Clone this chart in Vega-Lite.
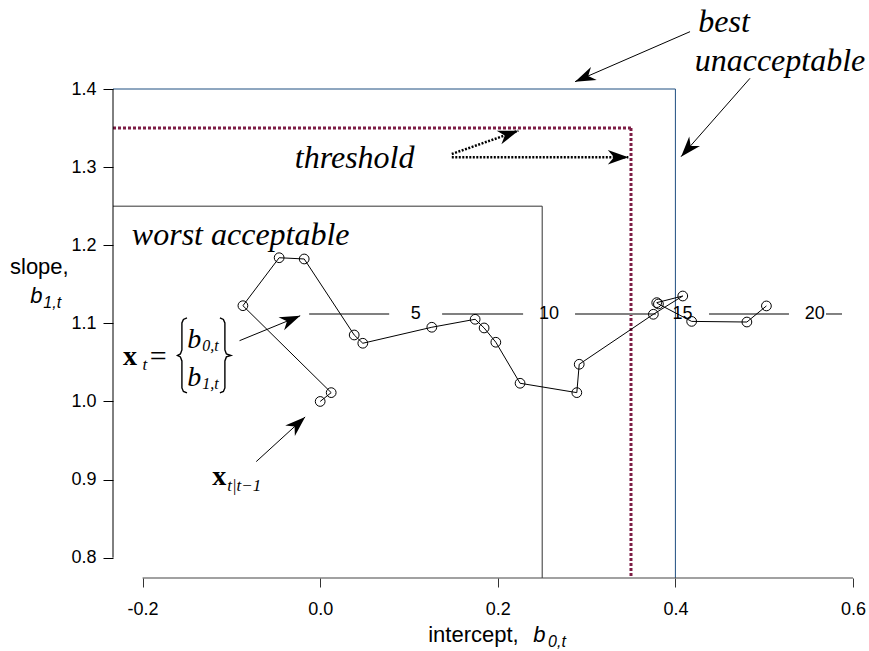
{
  "$schema": "https://vega.github.io/schema/vega-lite/v6.json",
  "width": 740,
  "height": 489,
  "autosize": {"type": "none"},
  "padding": {"left": 113, "top": 89, "right": 16, "bottom": 73},
  "background": "white",
  "config": {"view": {"stroke": null}},
  "datasets": {
    "path": [
      {"t": 0, "x": 0.0, "y": 1.0},
      {"t": 1, "x": 0.0124, "y": 1.0113},
      {"t": 2, "x": -0.087, "y": 1.1226},
      {"t": 3, "x": -0.0462, "y": 1.184},
      {"t": 4, "x": -0.018, "y": 1.1824},
      {"t": 5, "x": 0.0383, "y": 1.0851},
      {"t": 6, "x": 0.048, "y": 1.0745},
      {"t": 7, "x": 0.1257, "y": 1.095},
      {"t": 8, "x": 0.1745, "y": 1.1052},
      {"t": 9, "x": 0.1846, "y": 1.0941},
      {"t": 10, "x": 0.1978, "y": 1.0758},
      {"t": 11, "x": 0.2251, "y": 1.0233},
      {"t": 12, "x": 0.289, "y": 1.0113},
      {"t": 13, "x": 0.2917, "y": 1.0476},
      {"t": 14, "x": 0.3752, "y": 1.1116},
      {"t": 15, "x": 0.4083, "y": 1.135},
      {"t": 16, "x": 0.379, "y": 1.1265},
      {"t": 17, "x": 0.3809, "y": 1.1248},
      {"t": 18, "x": 0.4183, "y": 1.1025},
      {"t": 19, "x": 0.4805, "y": 1.1017},
      {"t": 20, "x": 0.5025, "y": 1.1223}
    ],
    "lines": [
      {"kind": "best", "x": -0.2333, "x2": 0.4, "y": 1.4, "y2": 1.4},
      {"kind": "best", "x": 0.4, "x2": 0.4, "y": 1.4, "y2": 0.774},
      {"kind": "worst", "x": -0.2333, "x2": 0.25, "y": 1.25, "y2": 1.25},
      {"kind": "worst", "x": 0.25, "x2": 0.25, "y": 1.25, "y2": 0.774},
      {"kind": "threshold", "x": -0.2333, "x2": 0.35, "y": 1.35, "y2": 1.35},
      {"kind": "threshold", "x": 0.35, "x2": 0.35, "y": 1.35, "y2": 0.774},
      {"kind": "xaxis", "x": -0.2, "x2": 0.6, "y": 0.774, "y2": 0.774},
      {"kind": "yaxis", "x": -0.2333, "x2": -0.2333, "y": 0.8, "y2": 1.4},
      {"kind": "steps", "x": -0.0124, "x2": 0.0777, "y": 1.112, "y2": 1.112},
      {"kind": "steps", "x": 0.1373, "x2": 0.2285, "y": 1.112, "y2": 1.112},
      {"kind": "steps", "x": 0.287, "x2": 0.378, "y": 1.112, "y2": 1.112},
      {"kind": "steps", "x": 0.4379, "x2": 0.5279, "y": 1.112, "y2": 1.112},
      {"kind": "steps", "x": 0.5696, "x2": 0.5876, "y": 1.112, "y2": 1.112},
      {"kind": "arrow", "name": "best", "x": 0.4165, "y": 1.4734, "x2": 0.287, "y2": 1.4094},
      {"kind": "arrow", "name": "unacceptable", "x": 0.484, "y": 1.4137, "x2": 0.4064, "y2": 1.3134},
      {"kind": "arrow", "name": "xt", "x": -0.0908, "y": 1.0778, "x2": -0.0225, "y2": 1.1097},
      {"kind": "arrow", "name": "xprior", "x": -0.072, "y": 0.923, "x2": -0.0169, "y2": 0.9802},
      {"kind": "dotted", "name": "thr1", "x": 0.1482, "y": 1.3168, "x2": 0.2232, "y2": 1.3466},
      {"kind": "dotted", "name": "thr2", "x": 0.1482, "y": 1.3126, "x2": 0.347, "y2": 1.3126}
    ],
    "braces": [
      {"brace": "left", "i": 0, "x": -0.15, "y": 1.1069},
      {"brace": "left", "i": 1, "x": -0.154, "y": 1.105},
      {"brace": "left", "i": 2, "x": -0.1557, "y": 1.1005},
      {"brace": "left", "i": 3, "x": -0.1557, "y": 1.0659},
      {"brace": "left", "i": 4, "x": -0.1574, "y": 1.0608},
      {"brace": "left", "i": 5, "x": -0.1607, "y": 1.0589},
      {"brace": "left", "i": 6, "x": -0.1574, "y": 1.057},
      {"brace": "left", "i": 7, "x": -0.1557, "y": 1.0518},
      {"brace": "left", "i": 8, "x": -0.1557, "y": 1.0173},
      {"brace": "left", "i": 9, "x": -0.154, "y": 1.0128},
      {"brace": "left", "i": 10, "x": -0.15, "y": 1.0109},
      {"brace": "right", "i": 0, "x": -0.1129, "y": 1.1069},
      {"brace": "right", "i": 1, "x": -0.109, "y": 1.105},
      {"brace": "right", "i": 2, "x": -0.1073, "y": 1.1005},
      {"brace": "right", "i": 3, "x": -0.1073, "y": 1.0659},
      {"brace": "right", "i": 4, "x": -0.1056, "y": 1.0608},
      {"brace": "right", "i": 5, "x": -0.1005, "y": 1.0589},
      {"brace": "right", "i": 6, "x": -0.1056, "y": 1.057},
      {"brace": "right", "i": 7, "x": -0.1073, "y": 1.0518},
      {"brace": "right", "i": 8, "x": -0.1073, "y": 1.0173},
      {"brace": "right", "i": 9, "x": -0.109, "y": 1.0128},
      {"brace": "right", "i": 10, "x": -0.1129, "y": 1.0109}
    ],
    "heads": [
      {"name": "best", "x": 0.287, "y": 1.4094},
      {"name": "unacceptable", "x": 0.4064, "y": 1.3134},
      {"name": "xt", "x": -0.0225, "y": 1.1097},
      {"name": "xprior", "x": -0.0169, "y": 0.9802},
      {"name": "thr1", "x": 0.2232, "y": 1.3466},
      {"name": "thr2", "x": 0.347, "y": 1.3126}
    ],
    "texts": [
      {"kind": "note", "text": "best", "x": 0.4548, "y": 1.473},
      {"kind": "note", "text": "unacceptable", "x": 0.5178, "y": 1.4235},
      {"kind": "note", "text": "threshold", "x": 0.0388, "y": 1.2989},
      {"kind": "note", "text": "worst acceptable", "x": -0.0895, "y": 1.2003},
      {"kind": "boldx", "text": "x", "x": -0.2221, "y": 1.0467},
      {"kind": "boldx", "text": "x", "x": -0.1216, "y": 0.8931},
      {"kind": "sub", "text": "t", "x": -0.2001, "y": 1.0403},
      {"kind": "sub", "text": "t|t−1", "x": -0.1047, "y": 0.8854},
      {"kind": "eq", "text": "=", "x": -0.1823, "y": 1.0454},
      {"kind": "b", "text": "b", "x": -0.1497, "y": 1.0685},
      {"kind": "b", "text": "b", "x": -0.1497, "y": 1.0198},
      {"kind": "bsub", "text": "0,t", "x": -0.1329, "y": 1.0646},
      {"kind": "bsub", "text": "1,t", "x": -0.1329, "y": 1.016},
      {"kind": "title", "text": "intercept,", "x": 0.1216, "y": 0.6925},
      {"kind": "title", "text": "slope,", "x": -0.3493, "y": 1.1632},
      {"kind": "titleb", "text": "b", "x": 0.2398, "y": 0.6925},
      {"kind": "titleb", "text": "b", "x": -0.3264, "y": 1.1261},
      {"kind": "titlesub", "text": "0,t", "x": 0.2566, "y": 0.6857},
      {"kind": "titlesub", "text": "1,t", "x": -0.3118, "y": 1.1197},
      {"kind": "step", "text": "5", "x": 0.1077, "y": 1.112},
      {"kind": "step", "text": "10", "x": 0.2578, "y": 1.112},
      {"kind": "step", "text": "15", "x": 0.408, "y": 1.112},
      {"kind": "step", "text": "20", "x": 0.557, "y": 1.112}
    ]
  },
  "encoding": {
    "x": {
      "field": "x",
      "type": "quantitative",
      "scale": {"domain": [-0.2333, 0.6], "nice": false, "zero": false},
      "axis": {
        "values": [-0.2, 0, 0.2, 0.4, 0.6],
        "format": ".1f",
        "labelExpr": "replace(datum.label, '−', '-')",
        "domain": false,
        "grid": false,
        "tickSize": 9,
        "tickColor": "#333333",
        "labelFont": "Liberation Sans",
        "labelFontSize": 18,
        "labelColor": "#000000",
        "labelPadding": 13,
        "labelFlush": false,
        "labelOverlap": false,
        "title": null
      }
    },
    "y": {
      "field": "y",
      "type": "quantitative",
      "scale": {"domain": [0.774, 1.4], "nice": false, "zero": false},
      "axis": {
        "values": [0.8, 0.9, 1.0, 1.1, 1.2, 1.3, 1.4],
        "format": ".1f",
        "domain": false,
        "grid": false,
        "tickSize": 10,
        "tickColor": "#000000",
        "labelFont": "Liberation Sans",
        "labelFontSize": 18,
        "labelColor": "#000000",
        "labelPadding": 7,
        "labelFlush": false,
        "labelOverlap": false,
        "title": null
      }
    }
  },
  "layer": [
    {
      "data": {"name": "lines"},
      "transform": [{"filter": "datum.kind === 'worst'"}],
      "mark": {"type": "rule", "color": "#333333", "strokeWidth": 1},
      "encoding": {"x2": {"field": "x2"}, "y2": {"field": "y2"}}
    },
    {
      "data": {"name": "lines"},
      "transform": [{"filter": "datum.kind === 'best'"}],
      "mark": {"type": "rule", "color": "#1f4e80", "strokeWidth": 1},
      "encoding": {"x2": {"field": "x2"}, "y2": {"field": "y2"}}
    },
    {
      "data": {"name": "lines"},
      "transform": [{"filter": "datum.kind === 'threshold'"}],
      "mark": {"type": "rule", "color": "#7d1d45", "strokeWidth": 3, "strokeDash": [3, 2]},
      "encoding": {"x2": {"field": "x2"}, "y2": {"field": "y2"}}
    },
    {
      "data": {"name": "lines"},
      "transform": [{"filter": "datum.kind === 'xaxis'"}],
      "mark": {"type": "rule", "color": "#444444", "strokeWidth": 1.2},
      "encoding": {"x2": {"field": "x2"}, "y2": {"field": "y2"}}
    },
    {
      "data": {"name": "lines"},
      "transform": [{"filter": "datum.kind === 'yaxis'"}],
      "mark": {"type": "rule", "color": "#000000", "strokeWidth": 1},
      "encoding": {"x2": {"field": "x2"}, "y2": {"field": "y2"}}
    },
    {
      "data": {"name": "lines"},
      "transform": [{"filter": "datum.kind === 'steps'"}],
      "mark": {"type": "rule", "color": "#808080", "strokeWidth": 2},
      "encoding": {"x2": {"field": "x2"}, "y2": {"field": "y2"}}
    },
    {
      "data": {"name": "texts"},
      "transform": [{"filter": "datum.kind === 'step'"}],
      "mark": {"type": "text", "font": "Liberation Sans", "fontSize": 18, "color": "#000000", "align": "center", "baseline": "middle"},
      "encoding": {"text": {"field": "text"}}
    },
    {
      "data": {"name": "path"},
      "mark": {"type": "line", "color": "#000000", "strokeWidth": 1},
      "encoding": {"order": {"field": "t", "type": "quantitative"}}
    },
    {
      "data": {"name": "path"},
      "mark": {"type": "point", "shape": "circle", "filled": false, "color": "#000000", "strokeWidth": 1, "size": 95, "opacity": 1},
      "encoding": {}
    },
    {
      "data": {"name": "braces"},
      "mark": {"type": "line", "color": "#000000", "strokeWidth": 1.4},
      "encoding": {"detail": {"field": "brace", "type": "nominal"}, "order": {"field": "i", "type": "quantitative"}}
    },
    {
      "data": {"name": "lines"},
      "transform": [{"filter": "datum.kind === 'arrow'"}],
      "mark": {"type": "rule", "color": "#000000", "strokeWidth": 1},
      "encoding": {"x2": {"field": "x2"}, "y2": {"field": "y2"}}
    },
    {
      "data": {"name": "lines"},
      "transform": [{"filter": "datum.kind === 'dotted'"}],
      "mark": {"type": "rule", "color": "#000000", "strokeWidth": 2.5, "strokeDash": [2, 1.5]},
      "encoding": {"x2": {"field": "x2"}, "y2": {"field": "y2"}}
    },
    {
      "data": {"name": "heads"},
      "transform": [{"filter": "datum.name === 'best'"}],
      "mark": {"type": "point", "shape": "M0,0L-2,-0.7L-1.4,0L-2,0.7Z", "filled": true, "color": "#000000", "size": 420, "opacity": 1, "angle": 156.5},
      "encoding": {}
    },
    {
      "data": {"name": "heads"},
      "transform": [{"filter": "datum.name === 'unacceptable'"}],
      "mark": {"type": "point", "shape": "M0,0L-2,-0.7L-1.4,0L-2,0.7Z", "filled": true, "color": "#000000", "size": 420, "opacity": 1, "angle": 131.4},
      "encoding": {}
    },
    {
      "data": {"name": "heads"},
      "transform": [{"filter": "datum.name === 'xt'"}],
      "mark": {"type": "point", "shape": "M0,0L-2,-0.7L-1.4,0L-2,0.7Z", "filled": true, "color": "#000000", "size": 420, "opacity": 1, "angle": -22.9},
      "encoding": {}
    },
    {
      "data": {"name": "heads"},
      "transform": [{"filter": "datum.name === 'xprior'"}],
      "mark": {"type": "point", "shape": "M0,0L-2,-0.7L-1.4,0L-2,0.7Z", "filled": true, "color": "#000000", "size": 420, "opacity": 1, "angle": -42.4},
      "encoding": {}
    },
    {
      "data": {"name": "heads"},
      "transform": [{"filter": "datum.name === 'thr1'"}],
      "mark": {"type": "point", "shape": "M0,0L-2,-0.7L-1.4,0L-2,0.7Z", "filled": true, "color": "#000000", "size": 420, "opacity": 1, "angle": -19.3},
      "encoding": {}
    },
    {
      "data": {"name": "heads"},
      "transform": [{"filter": "datum.name === 'thr2'"}],
      "mark": {"type": "point", "shape": "M0,0L-2,-0.7L-1.4,0L-2,0.7Z", "filled": true, "color": "#000000", "size": 420, "opacity": 1, "angle": 0},
      "encoding": {}
    },
    {
      "data": {"name": "texts"},
      "transform": [{"filter": "datum.kind === 'note'"}],
      "mark": {"type": "text", "font": "Liberation Serif", "fontStyle": "italic", "fontSize": 32, "color": "#000000", "align": "center", "baseline": "alphabetic"},
      "encoding": {"text": {"field": "text"}}
    },
    {
      "data": {"name": "texts"},
      "transform": [{"filter": "datum.kind === 'boldx'"}],
      "mark": {"type": "text", "font": "Liberation Serif", "fontWeight": "bold", "fontSize": 28, "color": "#000000", "align": "left", "baseline": "alphabetic"},
      "encoding": {"text": {"field": "text"}}
    },
    {
      "data": {"name": "texts"},
      "transform": [{"filter": "datum.kind === 'sub'"}],
      "mark": {"type": "text", "font": "Liberation Serif", "fontStyle": "italic", "fontSize": 17, "color": "#000000", "align": "left", "baseline": "alphabetic"},
      "encoding": {"text": {"field": "text"}}
    },
    {
      "data": {"name": "texts"},
      "transform": [{"filter": "datum.kind === 'eq'"}],
      "mark": {"type": "text", "font": "Liberation Serif", "fontSize": 30, "color": "#000000", "align": "center", "baseline": "alphabetic"},
      "encoding": {"text": {"field": "text"}}
    },
    {
      "data": {"name": "texts"},
      "transform": [{"filter": "datum.kind === 'b'"}],
      "mark": {"type": "text", "font": "Liberation Serif", "fontStyle": "italic", "fontSize": 28, "color": "#000000", "align": "left", "baseline": "alphabetic"},
      "encoding": {"text": {"field": "text"}}
    },
    {
      "data": {"name": "texts"},
      "transform": [{"filter": "datum.kind === 'bsub'"}],
      "mark": {"type": "text", "font": "Liberation Serif", "fontStyle": "italic", "fontSize": 16, "color": "#000000", "align": "left", "baseline": "alphabetic"},
      "encoding": {"text": {"field": "text"}}
    },
    {
      "data": {"name": "texts"},
      "transform": [{"filter": "datum.kind === 'title'"}],
      "mark": {"type": "text", "font": "Liberation Sans", "fontSize": 22, "color": "#000000", "align": "left", "baseline": "alphabetic"},
      "encoding": {"text": {"field": "text"}}
    },
    {
      "data": {"name": "texts"},
      "transform": [{"filter": "datum.kind === 'titleb'"}],
      "mark": {"type": "text", "font": "Liberation Sans", "fontStyle": "italic", "fontSize": 22, "color": "#000000", "align": "left", "baseline": "alphabetic"},
      "encoding": {"text": {"field": "text"}}
    },
    {
      "data": {"name": "texts"},
      "transform": [{"filter": "datum.kind === 'titlesub'"}],
      "mark": {"type": "text", "font": "Liberation Sans", "fontStyle": "italic", "fontSize": 16, "color": "#000000", "align": "left", "baseline": "alphabetic"},
      "encoding": {"text": {"field": "text"}}
    }
  ]
}
